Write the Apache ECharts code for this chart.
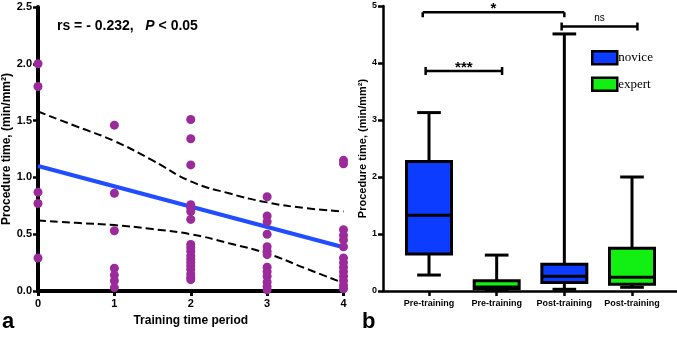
<!DOCTYPE html>
<html>
<head>
<meta charset="utf-8">
<script src="https://cdn.jsdelivr.net/npm/echarts@6/dist/echarts.min.js"></script>
<style>
  html, body { margin: 0; padding: 0; background: #fff; }
  #main { width: 677px; height: 341px; }
</style>
</head>
<body>
<div id="main"></div>
<script>
// 左图：训练阶段散点
var period0 = [2.0, 1.8, 0.87, 0.77, 0.29];
var period1 = [1.46, 0.86, 0.53, 0.20, 0.14, 0.09, 0.03];
var period2 = [1.51, 1.34, 1.11, 0.76, 0.73, 0.70, 0.63, 0.41, 0.38, 0.35, 0.31, 0.28, 0.25, 0.22, 0.19, 0.15, 0.12, 0.10];
var period3 = [0.83, 0.66, 0.61, 0.50, 0.39, 0.35, 0.32, 0.21, 0.17, 0.13, 0.08, 0.04, 0.01];
var period4 = [1.15, 1.12, 0.54, 0.49, 0.45, 0.39, 0.29, 0.25, 0.21, 0.17, 0.13, 0.09, 0.05, 0.02];
var fitX = [0, 4];
var fitY = [1.10, 0.385];
var bandX = [0, 0.5, 1, 1.5, 2, 2.5, 3, 3.5, 4];
var bandUpper = [1.58, 1.45, 1.32, 1.15, 0.965, 0.86, 0.78, 0.73, 0.70];
var bandLower = [0.62, 0.60, 0.58, 0.545, 0.50, 0.42, 0.33, 0.20, 0.07];

// 右图：箱线图 [min, Q1, median, Q3, max]
var boxCategories = ['Pre-training', 'Pre-training', 'Post-training', 'Post-training'];
var noviceBoxes = [[1, 0.28, 0.65, 1.33, 2.27, 3.13], [3, 0.03, 0.15, 0.26, 0.47, 4.51]];
var expertBoxes = [[2, 0.02, 0.04, 0.07, 0.18, 0.63], [4, 0.065, 0.12, 0.24, 0.75, 2.0]];
var sigFrom = [0.907, 0.95, 2.96];
var sigTo = [3.0, 2.08, 4.08];
var sigY = [4.89, 3.86, 4.64];
var sigText = ['*', '***', 'ns'];

var bracketEnds = ['down', 'both', 'both'];
var font = 'Liberation Sans';

var periods = [period0, period1, period2, period3, period4];
var points = [];
periods.forEach(function (vals, i) {
    vals.forEach(function (v) { points.push([i, v]); });
});

function pairs(xs, ys) {
    return xs.map(function (x, i) { return [x, ys[i]]; });
}

function renderBox(params, api) {
    var x = api.value(0);
    var lo = api.coord([x, api.value(1)]);
    var q1 = api.coord([x, api.value(2)]);
    var md = api.coord([x, api.value(3)]);
    var q3 = api.coord([x, api.value(4)]);
    var hi = api.coord([x, api.value(5)]);
    var unit = api.size([1, 0])[0];
    var bw = unit * 0.665, cw = unit * 0.35;
    var cx = lo[0];
    var ln = { stroke: '#000', lineWidth: 3 };
    return {
        type: 'group',
        children: [
            { type: 'line', shape: { x1: cx, y1: hi[1], x2: cx, y2: q3[1] }, style: ln },
            { type: 'line', shape: { x1: cx, y1: q1[1], x2: cx, y2: lo[1] }, style: ln },
            { type: 'line', shape: { x1: cx - cw / 2, y1: hi[1], x2: cx + cw / 2, y2: hi[1] }, style: ln },
            { type: 'line', shape: { x1: cx - cw / 2, y1: lo[1], x2: cx + cw / 2, y2: lo[1] }, style: ln },
            { type: 'rect', shape: { x: cx - bw / 2, y: q3[1], width: bw, height: q1[1] - q3[1] },
              style: { fill: api.visual('color'), stroke: '#000', lineWidth: 3 } },
            { type: 'line', shape: { x1: cx - bw / 2, y1: md[1], x2: cx + bw / 2, y2: md[1] }, style: ln }
        ]
    };
}

function renderBracket(params, api) {
    var i = params.dataIndex;
    var a = api.coord([api.value(0), api.value(2)]);
    var b = api.coord([api.value(1), api.value(2)]);
    var ln = { stroke: '#000', lineWidth: 2.5 };
    var up = bracketEnds[i] === 'both' ? 4 : 0;
    var down = bracketEnds[i] === 'both' ? 4 : 5;
    var star = sigText[i].indexOf('*') >= 0;
    return {
        type: 'group',
        children: [
            { type: 'line', shape: { x1: a[0], y1: a[1], x2: b[0], y2: b[1] }, style: ln },
            { type: 'line', shape: { x1: a[0], y1: a[1] - up, x2: a[0], y2: a[1] + down }, style: ln },
            { type: 'line', shape: { x1: b[0], y1: b[1] - up, x2: b[0], y2: b[1] + down }, style: ln },
            { type: 'text', x: (a[0] + b[0]) / 2, y: a[1] + (star ? 4 : -3),
              style: { text: sigText[i], fill: '#000', align: 'center', verticalAlign: 'bottom',
                       font: (star ? 'bold 15px ' : '10px ') + font } }
        ]
    };
}

var myChart = echarts.init(document.getElementById('main'));
var option = {
    backgroundColor: '#fff',
    animation: false,
    textStyle: { fontFamily: font },
    title: {
        left: 57, top: 19, padding: 0,
        text: '{b|rs = - 0.232,   }{i|P}{b| < 0.05}',
        textStyle: {
            rich: {
                b: { fontFamily: font, fontWeight: 'bold', fontSize: 14, color: '#000' },
                i: { fontFamily: font, fontWeight: 'bold', fontStyle: 'italic', fontSize: 14, color: '#000' }
            }
        }
    },
    legend: {
        left: 591, top: 50, orient: 'vertical', padding: 0,
        icon: 'rect', itemWidth: 25, itemHeight: 13, itemGap: 11,
        selectedMode: false,
        data: [
            { name: 'novice', itemStyle: { borderColor: '#000', borderWidth: 2.5 } },
            { name: 'expert', itemStyle: { borderColor: '#000', borderWidth: 2.5 } }
        ],
        textStyle: { fontFamily: 'Liberation Serif', fontSize: 13, color: '#000', padding: [0, 0, 0, -4] }
    },
    grid: [
        { left: 38, right: 333.5, top: 7, bottom: 50, outerBoundsMode: 'none' },
        { left: 383, right: 0, top: 6, bottom: 50, outerBoundsMode: 'none' }
    ],
    xAxis: [
        {
            gridIndex: 0, type: 'value', min: 0, max: 4, interval: 1,
            name: 'Training time period', nameLocation: 'middle', nameGap: 24,
            nameTextStyle: { fontFamily: font, fontWeight: 'bold', fontSize: 12, color: '#000' },
            axisLine: { lineStyle: { color: '#000', width: 4 } },
            axisTick: { length: 5, lineStyle: { color: '#000', width: 3 } },
            axisLabel: { margin: 7, fontFamily: font, fontWeight: 'bold', fontSize: 11, color: '#000' },
            splitLine: { show: false }
        },
        {
            gridIndex: 1, type: 'value', min: 0.32, max: 4.665,
            axisLine: { lineStyle: { color: '#000', width: 2.5 } },
            axisTick: { customValues: [1, 2, 3, 4], length: 5, lineStyle: { color: '#000', width: 2.5 } },
            axisLabel: {
                customValues: [1, 2, 3, 4], margin: 8,
                fontFamily: font, fontWeight: 'bold', fontSize: 9, color: '#000',
                formatter: function (v) { return boxCategories[Math.round(v) - 1]; }
            },
            splitLine: { show: false }
        }
    ],
    yAxis: [
        {
            gridIndex: 0, type: 'value', min: 0, max: 2.5, interval: 0.5,
            name: 'Procedure time, (min/mm²)', nameLocation: 'middle', nameGap: 24,
            nameTextStyle: { fontFamily: font, fontWeight: 'bold', fontSize: 12, color: '#000' },
            axisLine: { show: true, lineStyle: { color: '#000', width: 4 } },
            axisTick: { show: true, length: 5, lineStyle: { color: '#000', width: 2.5 } },
            axisLabel: { margin: 6, fontFamily: font, fontWeight: 'bold', fontSize: 11, color: '#000',
                         formatter: function (v) { return v.toFixed(1); } },
            splitLine: { show: false }
        },
        {
            gridIndex: 1, type: 'value', min: 0, max: 5, interval: 1,
            name: 'Procedure time, (min/mm²)', nameLocation: 'middle', nameGap: 15,
            nameTextStyle: { fontFamily: font, fontWeight: 'bold', fontSize: 11, color: '#000' },
            axisLine: { show: true, lineStyle: { color: '#000', width: 2.5 } },
            axisTick: { show: true, length: 5, lineStyle: { color: '#000', width: 2.5 } },
            axisLabel: { margin: 6, fontFamily: font, fontWeight: 'bold', fontSize: 9, color: '#000' },
            splitLine: { show: false }
        }
    ],
    series: [
        {
            type: 'line', xAxisIndex: 0, yAxisIndex: 0, data: pairs(bandX, bandUpper),
            smooth: true, symbol: 'none', lineStyle: { color: '#000', width: 2, type: [8, 4] }
        },
        {
            type: 'line', xAxisIndex: 0, yAxisIndex: 0, data: pairs(bandX, bandLower),
            smooth: true, symbol: 'none', lineStyle: { color: '#000', width: 2, type: [8, 4] }
        },
        {
            type: 'line', xAxisIndex: 0, yAxisIndex: 0, data: pairs(fitX, fitY),
            symbol: 'none', lineStyle: { color: '#1f4dff', width: 4 }
        },
        {
            type: 'scatter', xAxisIndex: 0, yAxisIndex: 0, data: points, clip: false,
            symbolSize: 9, itemStyle: { color: '#9b2a9b', opacity: 1 }, z: 5
        },
        {
            name: 'novice', type: 'custom', xAxisIndex: 1, yAxisIndex: 1,
            data: noviceBoxes, encode: { x: 0, y: [1, 2, 3, 4, 5] },
            renderItem: renderBox, itemStyle: { color: '#0b3cff' }
        },
        {
            name: 'expert', type: 'custom', xAxisIndex: 1, yAxisIndex: 1,
            data: expertBoxes, encode: { x: 0, y: [1, 2, 3, 4, 5] },
            renderItem: renderBox, itemStyle: { color: '#12f012' }
        },
        {
            type: 'custom', xAxisIndex: 1, yAxisIndex: 1,
            data: sigFrom.map(function (f, i) { return [f, sigTo[i], sigY[i]]; }),
            encode: { x: [0, 1], y: 2 },
            renderItem: renderBracket, clip: false
        }
    ],
    graphic: [
        { type: 'text', left: 2, top: 311, style: { text: 'a', font: 'bold 22px ' + font, fill: '#000' } },
        { type: 'text', left: 362, top: 311, style: { text: 'b', font: 'bold 22px ' + font, fill: '#000' } }
    ]
};
myChart.setOption(option);
</script>
</body>
</html>
